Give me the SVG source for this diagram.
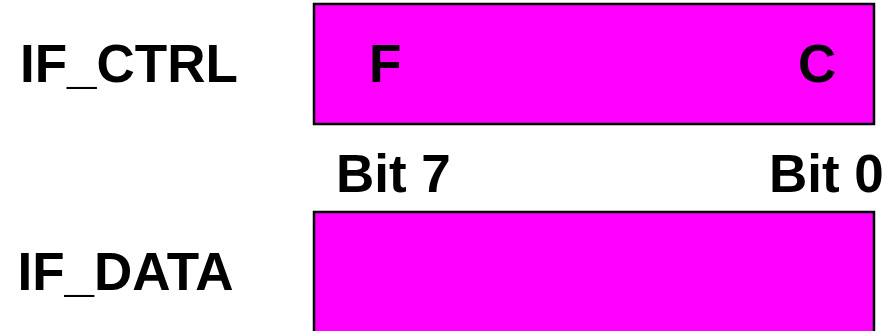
<svg xmlns="http://www.w3.org/2000/svg" width="895" height="331" viewBox="0 0 895 331">
<style>
.reg{fill:#ff00ff;stroke:#000;stroke-width:2.5}
.t{font-family:"Liberation Sans",Arial,sans-serif;font-weight:bold;fill:#000;font-size:53px}
</style>
<rect width="895" height="331" fill="#fff"/>
<g id="if_ctrl_label"><text class="t" x="20" y="82">IF_CTRL</text></g>
<g id="if_data_label"><text class="t" x="17.5" y="290">IF_DATA</text></g>
<g id="if_ctrl">
<rect class="reg" x="314" y="4" width="560" height="120"/>
<text class="t" x="369" y="82">F</text>
<text class="t" x="798" y="82">C</text>
</g>
<g id="bits">
<text class="t" x="336" y="192">Bit 7</text>
<text class="t" x="769" y="192">Bit 0</text>
</g>
<g id="if_data">
<rect class="reg" x="314" y="212" width="560" height="130"/>
</g>
<g id="connectors"/>
</svg>
